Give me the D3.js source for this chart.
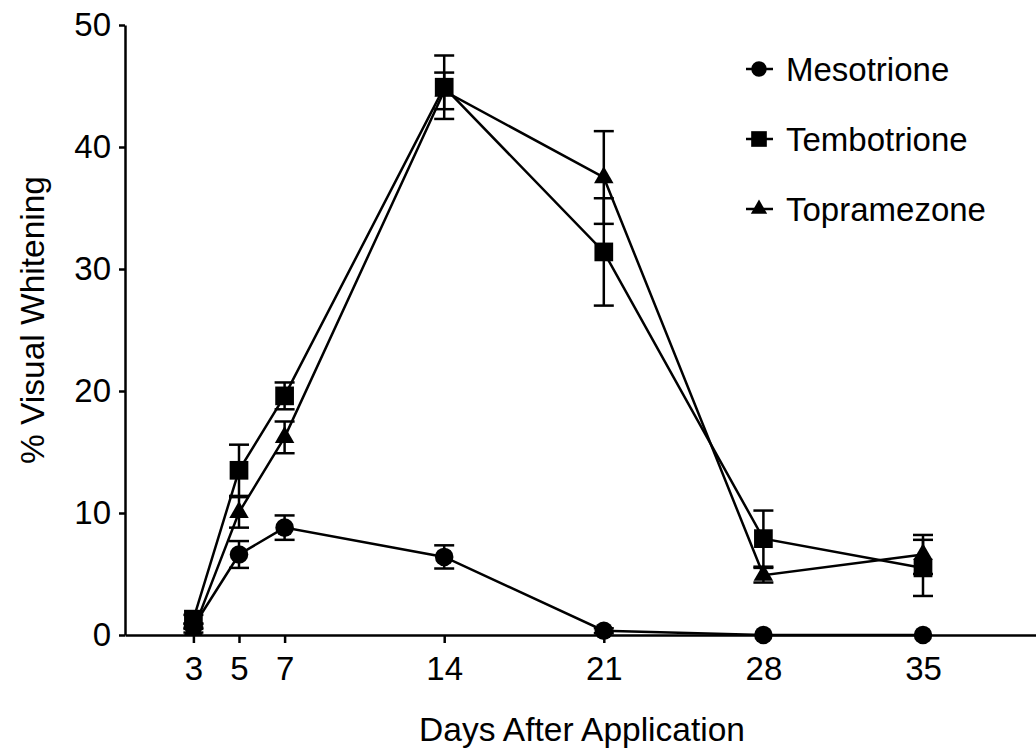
<!DOCTYPE html>
<html>
<head>
<meta charset="utf-8">
<script src="https://cdn.jsdelivr.net/npm/d3@7"></script>
<style>
  body { margin: 0; background: #fff; }
  svg { display: block; font-family: 'Liberation Sans', Arial, sans-serif; }
  .axis text { font-size: 33px; fill: #000; }
  .axis path, .axis line { stroke: #000; stroke-width: 2.5; }
</style>
</head>
<body>
<div id="container"></div>
<script>
// Data
var days = [3, 5, 7, 14, 21, 28, 35];
var seriesNames = ['Mesotrione', 'Tembotrione', 'Topramezone'];
var mesotrione = [0.7, 6.6, 8.8, 6.4, 0.35, 0, 0];
var mesotrioneSE = [0.2, 1.1, 1.0, 0.95, 0.2, 0, 0];
var tembotrione = [1.3, 13.5, 19.6, 44.9, 31.4, 7.9, 5.5];
var tembotrioneSE = [0.35, 2.1, 1.1, 2.6, 4.4, 2.3, 2.3];
var topramezone = [0.4, 10.05, 16.2, 44.6, 37.5, 4.9, 6.6];
var topramezoneSE = [0.2, 1.25, 1.3, 1.5, 3.8, 0.6, 1.6];
var yTicks = [0, 10, 20, 30, 40, 50];

var series = [
    { name: seriesNames[0], values: mesotrione, se: mesotrioneSE, symbol: d3.symbolCircle, size: 270, order: 0 },
    { name: seriesNames[1], values: tembotrione, se: tembotrioneSE, symbol: d3.symbolSquare, size: 350, order: 2 },
    { name: seriesNames[2], values: topramezone, se: topramezoneSE, symbol: d3.symbolTriangle, size: 165, order: 1 }
];

// Size variables
var width = 1036, height = 748;
var svg = d3.select('#container')
    .append('svg')
    .attr('width', width)
    .attr('height', height);

var xScale = d3.scaleLinear().domain([0, 40]).range([125, 1037]);
var yScale = d3.scaleLinear().domain([0, 50]).range([635, 25]);

// x axis
var xAxis = d3.axisBottom(xScale)
    .tickValues(days)
    .tickSize(8)
    .tickSizeOuter(0)
    .tickPadding(14);
svg.append('g')
    .attr('class', 'axis')
    .attr('transform', 'translate(0,' + yScale(0) + ')')
    .call(xAxis);

// y axis
var yAxis = d3.axisLeft(yScale)
    .tickValues(yTicks)
    .tickSize(6)
    .tickSizeOuter(0)
    .tickPadding(8);
svg.append('g')
    .attr('class', 'axis')
    .attr('transform', 'translate(' + xScale(0) + ',0)')
    .call(yAxis);

// axis titles
svg.append('text')
    .attr('x', 582)
    .attr('y', 741)
    .attr('text-anchor', 'middle')
    .style('font-size', '33.5px')
    .text('Days After Application');

svg.append('text')
    .attr('transform', 'translate(44,' + 320 + ') rotate(-90)')
    .attr('text-anchor', 'middle')
    .style('font-size', '33.5px')
    .text('% Visual Whitening');

// Draw the series
var line = d3.line()
    .x((d, i) => xScale(days[i]))
    .y((d) => yScale(d));

var lineLayer = svg.append('g');
var markerLayer = svg.append('g');

series.forEach((s) => {
    var g = lineLayer.append('g');
    // error bars
    s.values.forEach((v, i) => {
        if (s.se[i] <= 0) return;
        var x = xScale(days[i]);
        var y1 = yScale(v + s.se[i]), y2 = yScale(v - s.se[i]);
        g.append('line').attr('x1', x).attr('x2', x).attr('y1', y1).attr('y2', y2)
            .attr('stroke', '#000').attr('stroke-width', 2.5);
        [y1, y2].forEach((y) => {
            g.append('line').attr('x1', x - 10).attr('x2', x + 10).attr('y1', y).attr('y2', y)
                .attr('stroke', '#000').attr('stroke-width', 2.5);
        });
    });
    // connecting line
    g.append('path')
        .datum(s.values)
        .attr('d', line)
        .attr('fill', 'none')
        .attr('stroke', '#000')
        .attr('stroke-width', 2.5);
});

// markers, squares on top
series.slice().sort((a, b) => a.order - b.order).forEach((s) => {
    markerLayer.append('g').selectAll('path')
        .data(s.values)
        .enter()
        .append('path')
        .attr('d', d3.symbol().type(s.symbol).size(s.size))
        .attr('transform', (d, i) => 'translate(' + xScale(days[i]) + ',' + yScale(d) + ')')
        .attr('fill', '#000');
});

// Legend
var legend = svg.append('g');
series.forEach((s, i) => {
    var y = 69 + i * 70;
    legend.append('line')
        .attr('x1', 746).attr('x2', 773).attr('y1', y).attr('y2', y)
        .attr('stroke', '#000').attr('stroke-width', 2.5);
    legend.append('path')
        .attr('d', d3.symbol().type(s.symbol).size(s.size * 0.7))
        .attr('transform', 'translate(759,' + y + ')')
        .attr('fill', '#000');
    legend.append('text')
        .attr('x', 786)
        .attr('y', y + 12)
        .style('font-size', '33px')
        .text(s.name);
});
</script>
</body>
</html>
